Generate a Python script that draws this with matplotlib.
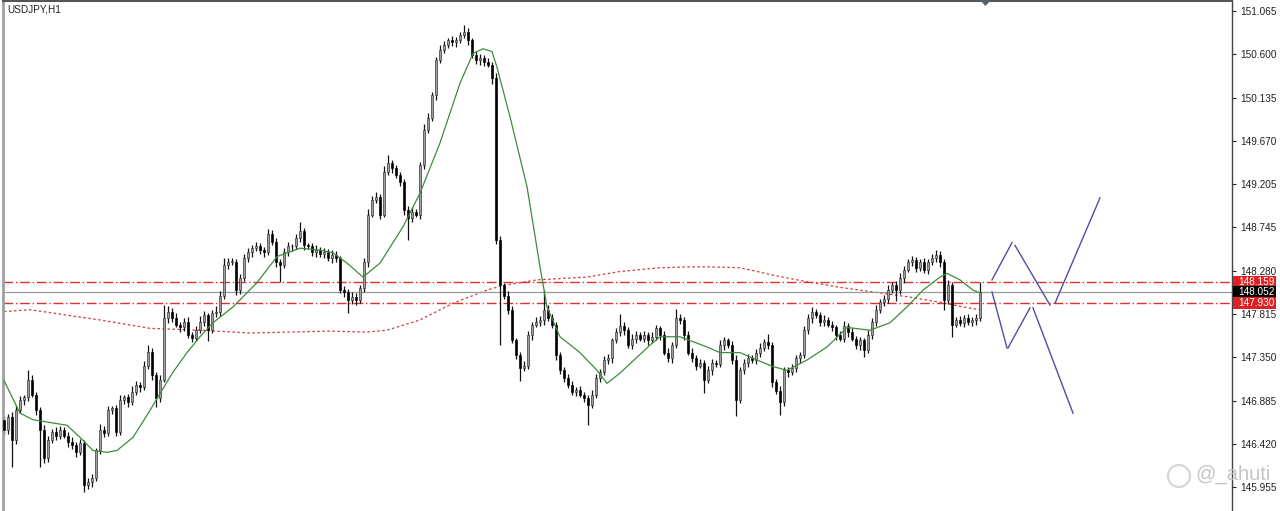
import numpy as np
import matplotlib
matplotlib.use("Agg")
import matplotlib.pyplot as plt
from matplotlib.patches import Rectangle, Polygon, Circle

# ---------------- data ----------------
symbol_title = "USDJPY,H1"
first_open = 146.68
closes = [
    146.57, 146.71, 146.46, 146.78, 146.89, 146.92, 147.11, 146.95, 146.78, 146.57,
    146.27, 146.46, 146.55, 146.51, 146.57, 146.51, 146.44, 146.41, 146.33, 146.43,
    145.98, 146.01, 146.05, 146.35, 146.57, 146.54, 146.78, 146.80, 146.55, 146.89,
    146.92, 146.87, 146.98, 147.05, 147.03, 147.26, 147.41, 147.16, 146.91, 147.11,
    147.77, 147.84, 147.77, 147.70, 147.67, 147.73, 147.59, 147.56, 147.64, 147.73,
    147.80, 147.64, 147.82, 147.84, 148.01, 148.34, 148.37, 148.37, 148.07, 148.20,
    148.41, 148.48, 148.52, 148.54, 148.50, 148.48, 148.67, 148.59, 148.37, 148.34,
    148.48, 148.54, 148.54, 148.63, 148.70, 148.55, 148.54, 148.48, 148.50, 148.46,
    148.48, 148.41, 148.45, 148.41, 148.07, 148.05, 147.96, 148.00, 147.96, 148.09,
    148.37, 148.88, 149.04, 149.07, 148.88, 149.34, 149.43, 149.38, 149.30, 149.23,
    148.93, 148.84, 148.91, 148.88, 149.41, 149.79, 149.92, 150.16, 150.54, 150.65,
    150.70, 150.75, 150.73, 150.75, 150.81, 150.84, 150.75, 150.59, 150.54, 150.56,
    150.52, 150.49, 150.35, 148.61, 148.12, 148.01, 147.86, 147.53, 147.37, 147.23,
    147.26, 147.59, 147.70, 147.73, 147.75, 147.86, 147.77, 147.70, 147.37, 147.21,
    147.13, 147.05, 146.98, 147.00, 146.95, 146.91, 146.84, 146.95, 147.13, 147.19,
    147.32, 147.34, 147.53, 147.62, 147.69, 147.64, 147.48, 147.55, 147.59, 147.55,
    147.59, 147.53, 147.57, 147.66, 147.59, 147.40, 147.34, 147.48, 147.77, 147.75,
    147.59, 147.40, 147.34, 147.26, 147.29, 147.11, 147.21, 147.29, 147.28, 147.48,
    147.53, 147.48, 147.32, 146.89, 147.21, 147.29, 147.34, 147.32, 147.40, 147.45,
    147.51, 147.48, 147.08, 146.99, 146.87, 147.21, 147.19, 147.23, 147.34, 147.37,
    147.64, 147.77, 147.84, 147.80, 147.73, 147.75, 147.70, 147.67, 147.59, 147.55,
    147.69, 147.62, 147.55, 147.48, 147.53, 147.43, 147.59, 147.73, 147.86, 147.94,
    147.98, 148.07, 148.13, 148.07, 148.20, 148.29, 148.37, 148.39, 148.31, 148.37,
    148.29, 148.37, 148.41, 148.45, 148.37, 147.96, 148.12, 147.70, 147.75, 147.72,
    147.77, 147.73, 147.75, 147.77, 148.052,
]
# wick lengths in 0.01 (pips) above body top / below body bottom
wick_up = [
    4, 3, 5, 6, 4, 3, 10, 5, 3, 4,
    5, 4, 3, 5, 4, 3, 4, 5, 3, 4,
    3, 4, 5, 3, 6, 4, 5, 3, 4, 5,
    3, 4, 6, 4, 3, 5, 7, 4, 3, 5,
    14, 6, 4, 5, 3, 4, 5, 3, 4, 6,
    5, 3, 4, 6, 5, 7, 4, 5, 3, 4,
    5, 4, 3, 5, 4, 3, 6, 5, 4, 3,
    4, 5, 3, 4, 10, 4, 3, 4, 5, 3,
    4, 3, 5, 4, 3, 4, 3, 5, 4, 3,
    5, 6, 4, 5, 3, 6, 9, 4, 3, 4,
    3, 4, 5, 3, 4, 6, 5, 4, 3, 5,
    4, 3, 5, 4, 3, 7, 4, 3, 5, 4,
    3, 4, 3, 5, 4, 3, 5, 4, 3, 4,
    5, 4, 3, 5, 4, 21, 5, 4, 3, 4,
    3, 4, 5, 3, 4, 3, 4, 5, 4, 3,
    4, 5, 3, 4, 12, 4, 3, 5, 4, 3,
    4, 3, 5, 4, 3, 4, 5, 3, 10, 4,
    3, 4, 5, 3, 4, 3, 5, 4, 3, 5,
    4, 3, 4, 5, 3, 4, 5, 3, 4, 5,
    4, 9, 3, 4, 5, 3, 4, 5, 3, 4,
    5, 4, 5, 3, 4, 5, 3, 4, 3, 4,
    5, 3, 4, 3, 4, 3, 5, 4, 5, 3,
    4, 5, 3, 4, 5, 4, 3, 5, 4, 3,
    4, 3, 5, 5, 4, 3, 6, 4, 3, 4,
    3, 4, 3, 4, 10,
]
wick_dn = [
    5, 4, 29, 4, 3, 5, 4, 3, 5, 40,
    5, 4, 3, 5, 4, 3, 5, 4, 5, 3,
    8, 4, 5, 3, 4, 5, 3, 4, 5, 3,
    4, 5, 3, 4, 5, 3, 4, 5, 9, 4,
    3, 5, 4, 3, 5, 4, 3, 5, 4, 3,
    4, 12, 3, 4, 5, 3, 4, 3, 5, 4,
    3, 4, 5, 3, 4, 5, 3, 4, 5, 18,
    3, 4, 5, 3, 4, 5, 3, 4, 5, 3,
    4, 3, 5, 4, 3, 5, 14, 4, 5, 3,
    4, 5, 3, 4, 5, 3, 4, 5, 3, 4,
    5, 23, 4, 3, 5, 4, 3, 4, 5, 3,
    4, 3, 4, 5, 3, 4, 5, 3, 4, 5,
    4, 3, 7, 5, 64, 4, 5, 3, 4, 13,
    3, 4, 5, 3, 4, 5, 3, 4, 5, 4,
    5, 3, 4, 5, 3, 4, 22, 3, 4, 5,
    3, 4, 5, 3, 4, 5, 3, 4, 5, 3,
    4, 5, 3, 4, 5, 3, 4, 5, 3, 4,
    5, 3, 4, 5, 3, 14, 4, 5, 3, 4,
    5, 3, 4, 17, 3, 4, 5, 3, 4, 5,
    3, 4, 5, 3, 14, 4, 5, 3, 4, 5,
    3, 4, 5, 3, 4, 5, 3, 4, 5, 3,
    4, 5, 3, 4, 5, 8, 3, 4, 5, 3,
    4, 5, 3, 12, 4, 5, 3, 4, 5, 3,
    4, 5, 3, 4, 5, 10, 4, 13, 3, 4,
    5, 3, 4, 5, 3,
]

# fast moving average (green), sampled at bar positions
ma_fast_idx = [0, 4, 7.25, 11.5, 15.75, 19, 22.25, 25.75, 28.25, 32.25, 36.5, 39,
               42.25, 45.75, 49, 52.25, 57.25, 63.25, 68.25, 74, 79, 82.25, 85.75,
               89.75, 94, 99.75, 104, 109, 114, 117.25, 119.75, 122, 123.25, 126.5,
               130.75, 134, 135.75, 139, 144, 148.25, 150.75, 154, 158.25, 161.5,
               164, 169, 175.75, 179, 184, 188.25, 192.25, 195.75, 200.75, 205.75,
               210.75, 216.5, 221.5, 225.75, 229.75, 234, 235.75, 239, 242.25, 244]
ma_fast_val = [147.10, 146.75, 146.68, 146.65, 146.62, 146.49, 146.35, 146.33, 146.35,
               146.49, 146.78, 146.96, 147.19, 147.40, 147.57, 147.72, 147.89, 148.15,
               148.43, 148.52, 148.50, 148.47, 148.36, 148.21, 148.36, 148.75, 149.11,
               149.65, 150.29, 150.61, 150.66, 150.63, 150.46, 149.93, 149.18, 148.32,
               147.89, 147.57, 147.40, 147.21, 147.07, 147.18, 147.35, 147.48, 147.57,
               147.57, 147.46, 147.40, 147.40, 147.32, 147.25, 147.21, 147.32, 147.46,
               147.67, 147.64, 147.72, 147.89, 148.07, 148.21, 148.25, 148.18, 148.07,
               148.04]

# slow moving average (red dotted)
ma_slow_idx = [0, 6.5, 24, 36.5, 49, 61.5, 71.5, 81.5, 90.75, 95.75, 104, 112.25,
               116.5, 120.75, 124.75, 133.25, 145.75, 154, 164, 171.5, 175.75, 184,
               188.25, 192.25, 200.75, 209, 217.25, 225.75, 234, 239.75, 244]
ma_slow_val = [147.84, 147.86, 147.75, 147.66, 147.64, 147.61, 147.62, 147.63, 147.62,
               147.64, 147.75, 147.93, 148.00, 148.07, 148.12, 148.18, 148.21, 148.27,
               148.31, 148.32, 148.32, 148.31, 148.27, 148.23, 148.16, 148.10, 148.05,
               148.00, 147.94, 147.89, 147.86]

# horizontal levels
level_upper = 148.159
level_bid = 148.052
level_lower = 147.930

# projection zigzags (bar index, price)
zig_up_x = [[247, 252], [252.75, 261.5], [262.75, 274]]
zig_up_y = [[148.18, 148.58], [148.55, 147.91], [147.93, 149.06]]
zig_dn_x = [[247, 250.75], [251, 256.5], [257.25, 267.25]]
zig_dn_y = [[148.05, 147.45], [147.45, 147.88], [147.88, 146.75]]

price_ticks = [151.065, 150.600, 150.135, 149.670, 149.205, 148.745, 148.280,
               147.815, 147.350, 146.885, 146.420, 145.955]

watermark = "@_ahuti"

# ---------------- figure ----------------
W, H = 1280, 511
fig = plt.figure(figsize=(W / 100, H / 100), dpi=100)
fig.patch.set_facecolor("white")
plt.rcParams["font.family"] = ["Liberation Sans", "DejaVu Sans"]

ax_left, ax_right = 3, 1232
ax_top, ax_bot = 1, 511
ax = fig.add_axes([ax_left / W, 1 - ax_bot / H, (ax_right - ax_left) / W, (ax_bot - ax_top) / H])
ax.set_facecolor("white")

n = min(len(closes), len(wick_up), len(wick_dn))
c = np.array(closes[:n])
o = np.concatenate([[first_open], c[:-1]])
hi = np.maximum(o, c) + np.array(wick_up[:n]) / 100.0
lo = np.minimum(o, c) - np.array(wick_dn[:n]) / 100.0
idx = np.arange(n)

# slow MA (dotted red) and levels first
ax.plot(ma_slow_idx, ma_slow_val, color="#d23c3c", lw=0.9, ls=(0, (2, 2)), zorder=1)
ax.axhline(level_bid, color="#9a9a9a", lw=0.9, zorder=1)
ax.axhline(level_upper, color="#e03030", lw=1.0, ls=(0, (7, 2, 1, 2)), zorder=1.2)
ax.axhline(level_lower, color="#e03030", lw=1.0, ls=(0, (7, 2, 1, 2)), zorder=1.2)

# candles
ax.vlines(idx, lo, hi, color="#111111", lw=0.9, zorder=2)
bull = c >= o
body_bot = np.minimum(o, c)
body_h = np.maximum(np.abs(c - o), 0.008)
ax.bar(idx[bull], body_h[bull], bottom=body_bot[bull], width=0.72,
       color="#a0a0a0", edgecolor="#2e2e2e", linewidth=0.45, zorder=3)
ax.bar(idx[~bull], body_h[~bull], bottom=body_bot[~bull], width=0.72,
       color="#000000", edgecolor="#000000", linewidth=0.45, zorder=3)

# fast MA (green)
ax.plot(ma_fast_idx, ma_fast_val, color="#3d8c3d", lw=0.9, zorder=4)

# projection lines
for xs, ys in zip(zig_up_x, zig_up_y):
    ax.plot(xs, ys, color="#4e4ea6", lw=1.0, zorder=4)
for xs, ys in zip(zig_dn_x, zig_dn_y):
    ax.plot(xs, ys, color="#4e4ea6", lw=1.0, zorder=4)

# limits: x in bar index (4 px per bar, bar 0 at px 4)
ax.set_xlim((ax_left - 4) / 4, (ax_right - 4) / 4)
p_top = 151.065 + (11 - ax_top) / 93.2
p_bot = 151.065 - (ax_bot - 11) / 93.2
ax.set_ylim(p_bot, p_top)

ax.set_xticks([])
ax.yaxis.tick_right()
ax.set_yticks(price_ticks)
ax.set_yticklabels([f"{t:.3f}" for t in price_ticks])
ax.tick_params(axis="y", direction="out", length=3, width=0.8, pad=3,
               labelsize=7.2, colors="#222222")
ax.spines["bottom"].set_visible(False)
ax.spines["right"].set_color("#444444")
ax.spines["right"].set_linewidth(1.0)
ax.spines["top"].set_color("#555555")
ax.spines["top"].set_linewidth(1.5)
ax.spines["left"].set_color("#a0a0a0")
ax.spines["left"].set_linewidth(2.0)

# title
ax.text(4 / (ax_right - ax_left), 1 - 8 / (ax_bot - ax_top), symbol_title,
        transform=ax.transAxes, fontsize=7.2, color="#222222", va="center", ha="left")


def price_to_figy(p):
    ypix = 11 + (151.065 - p) * 93.2
    return 1 - ypix / H


# price label boxes on the scale
for p, fc in [(level_upper, "#e02020"), (level_bid, "#000000"), (level_lower, "#e02020")]:
    yc = price_to_figy(p)
    bh = 12.5 / H
    fig.patches.append(Rectangle((1233 / W, yc - bh / 2), 43 / W, bh,
                                 transform=fig.transFigure, facecolor=fc,
                                 edgecolor="none", zorder=5))
    fig.text(1238 / W, yc, f"{p:.3f}", color="white", fontsize=7.2,
             va="center", ha="left", zorder=6)

# chart-shift marker
fig.patches.append(Polygon([[980 / W, 1.0], [991 / W, 1.0], [985.5 / W, 1 - 6 / H]],
                           closed=True, transform=fig.transFigure,
                           facecolor="#55606a", edgecolor="none", zorder=6))

# watermark (logo circle drawn in inch space to stay round)
fig.patches.append(Circle((1179 / 100, (H - 476) / 100), 0.11,
                          transform=fig.dpi_scale_trans,
                          facecolor="none", edgecolor="#d6d6d6", lw=1.6, zorder=6))
fig.text(1195 / W, 1 - 474 / H, watermark, color="#c4c4c4", fontsize=14.5,
         va="center", ha="left", zorder=6)

fig.savefig("out.png", dpi=100, facecolor="white")
